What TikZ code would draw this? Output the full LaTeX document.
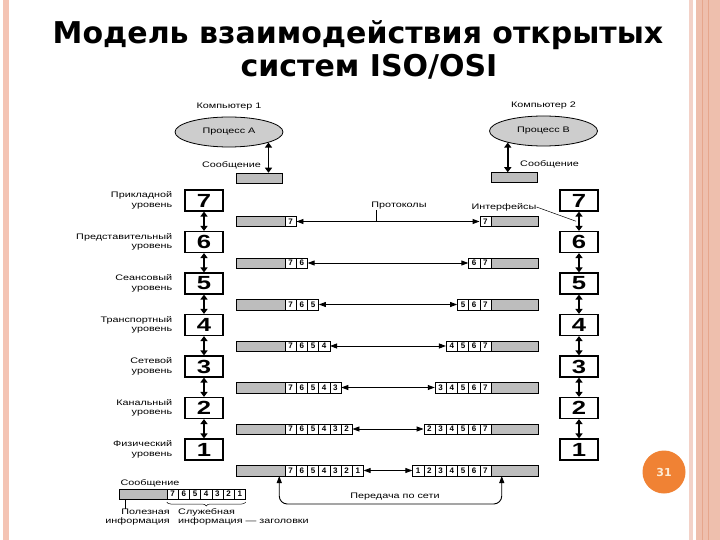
\documentclass[tikz,border=0pt]{standalone}
\usepackage{fontspec}
\setmainfont{Liberation Sans}
\newfontfamily\titlefont{DejaVu Sans}
\usepackage{graphicx}
\usetikzlibrary{shapes.geometric,arrows.meta,calc,decorations.pathreplacing}
\definecolor{barfill}{HTML}{BDBDBD}
\definecolor{ellfill}{HTML}{CDCDCD}
\definecolor{stripe}{HTML}{F4C4B4}
\definecolor{stripeB}{HTML}{EEBFAD}
\definecolor{stripeC}{HTML}{E6A68C}
\definecolor{stripeL}{HTML}{F3D2C8}
\definecolor{pgorange}{HTML}{F08234}
\definecolor{pgtext}{HTML}{FDEBD5}
\newcommand\wide[1]{\scalebox{1.35}[1]{#1}}
\newcommand\bigwide[1]{\scalebox{1.35}[1]{#1}}
\newcommand\smallf{\fontsize{8}{9.4}\selectfont}
\begin{document}
\begin{tikzpicture}[x=1pt,y=-1pt,
  lay/.style={draw, line width=1.1pt, minimum width=38pt, minimum height=21pt, inner sep=0pt, font=\fontsize{19}{19}\selectfont\bfseries},
  bar/.style={draw, line width=0.5pt, fill=barfill, minimum height=10.5pt, inner sep=0pt},
  cell/.style={draw, line width=0.5pt, fill=white, minimum width=11.2pt, minimum height=10.5pt, inner sep=0pt, font=\fontsize{8}{8}\selectfont\bfseries},
  lbl/.style={inner sep=0pt, font=\smallf},
  varrow/.style={line width=1.6pt, {Triangle[length=5pt,width=7pt]}-{Triangle[length=5pt,width=7pt]}},
  harrow/.style={line width=0.9pt, {Triangle[length=7pt,width=5pt]}-{Triangle[length=7pt,width=5pt]}},
  proc/.style={ellipse, draw, line width=0.8pt, fill=ellfill, minimum width=108pt, minimum height=30pt, inner sep=0pt, font=\smallf}
]
\useasboundingbox (0,0) rectangle (720,540);
\fill[white] (0,0) rectangle (720,540);
% border stripes
\fill[stripe] (2.7,0) rectangle (9.3,540);
\fill[stripeL] (689,0) rectangle (693,540);
\fill[stripeB] (696,0) rectangle (720,540);
\fill[stripeC] (702.2,0) rectangle (703.4,540);
\fill[stripeC] (708.2,0) rectangle (709.4,540);
% title
\node[anchor=base, inner sep=0pt, font=\titlefont\bfseries\fontsize{30}{33}\selectfont] (t1) at (358,44) {Модель взаимодействия открытых};
\node[anchor=base, inner sep=0pt, font=\titlefont\bfseries\fontsize{30}{33}\selectfont] (t2) at (369,77) {систем ISO/OSI};
% layer boxes
\foreach \k in {1,...,7} {
  \pgfmathsetmacro\yy{200.5+(7-\k)*41.5}
  \node[lay] (L\k) at (204,\yy) {\bigwide{\k}};
  \node[lay] (R\k) at (579,\yy) {\bigwide{\k}};
}
\foreach \k [evaluate=\k as \j using int(\k-1)] in {7,...,2} {
  \draw[varrow] (L\k.south) -- (L\j.north);
  \draw[varrow] (R\k.south) -- (R\j.north);
}
% layer labels
\foreach \k/\nm in {7/Прикладной,6/Представительный,5/Сеансовый,4/Транспортный,3/Сетевой,2/Канальный,1/Физический} {
  \node[lbl, anchor=east] (N\k) at ($(L\k.west)+(-12,0)$) {\wide{\begin{tabular}{@{}r@{}}\nm\\уровень\end{tabular}}};
}
% message rows
\foreach \k in {1,...,7} {
  \pgfmathsetmacro\ry{221.5+(7-\k)*41.5}
  \node[bar, minimum width=49pt] (Lg\k) at (260.5,\ry) {};
  \foreach \j in {7,...,\k} {
    \pgfmathsetmacro\cx{285+11.2*(7-\j+0.5)}
    \node[cell] (Lc\k-\j) at (\cx,\ry) {\j};
  }
  \foreach \j in {\k,...,7} {
    \pgfmathsetmacro\cx{491-11.2*(7-\j+0.5)}
    \node[cell] (Rc\k-\j) at (\cx,\ry) {\j};
  }
  \node[bar, minimum width=47pt] (Rg\k) at (514.5,\ry) {};
  \draw[harrow] (Lc\k-\k.east) -- (Rc\k-\k.west);
}
% computers
\node[lbl] (K1) at (229,107) {\wide{Компьютер 1}};
\node[proc] (P1) at (229,132) {\wide{Процесс А}};
\node[bar, minimum width=46pt, minimum height=10pt] (M1) at (259,178) {};
\draw[varrow] (P1.-15) -- (P1.-15 |- M1.north);
\node[lbl, anchor=east] (S1) at (261,165) {\wide{Сообщение}};
\node[lbl] (K2) at (543.5,106) {\wide{Компьютер 2}};
\node[proc] (P2) at (543.5,131) {\wide{Процесс В}};
\node[bar, minimum width=46pt, minimum height=10pt] (M2) at (514.5,177.5) {};
\draw[varrow] (P2.198) -- (P2.198 |- M2.north);
\node[lbl, anchor=west] (S2) at (520,164) {\wide{Сообщение}};
% protocols / interfaces
\node[lbl] (Prot) at (399,206) {\wide{Протоколы}};
\draw[line width=0.5pt] ($(Prot.south west)+(5,0)$) coordinate (pl) -- (pl |- Lc7-7.east);
\node[lbl] (Intf) at (504,207) {\wide{Интерфейсы}};
\coordinate (ia) at ($(R7.south)!0.5!(R6.north)$);
\draw[line width=0.5pt] (Intf.east) -- ($(ia)+(-3,0)$);
% network transfer
\coordinate (nl) at ($(Lg1.south east)+(-6,0)$);
\coordinate (nr) at ($(Rg1.south west)+(11,0)$);
\draw[line width=0.9pt, rounded corners=8pt, {Triangle[length=7pt,width=5pt]}-{Triangle[length=7pt,width=5pt]}] (nl) -- ($(nl)+(0,28)$) -- ($(nr)+(0,28)$) -- (nr);
\node[lbl] (Net) at (395,496.5) {\wide{Передача по сети}};
% legend
\node[lbl] (LegS) at (150,483) {\wide{Сообщение}};
\node[bar, minimum width=48pt, minimum height=9.5pt] (LegG) at (143,494) {};
\foreach \j in {7,...,1} {
  \pgfmathsetmacro\cx{167+11.2*(7-\j+0.5)}
  \node[cell, minimum height=9.5pt] (Leg\j) at (\cx,494) {\j};
}
\draw[decorate, decoration={brace, amplitude=4pt}, line width=0.5pt] ($(Leg1.south east)+(0,3)$) -- ($(Leg7.south west)+(0,3)$);
\draw[line width=0.5pt] ($(LegG.south west)+(6,0)$) -- ++(0,10);
\node[lbl, anchor=north east] (T1) at (170,507.5) {\wide{\begin{tabular}{@{}r@{}}Полезная\\информация\end{tabular}}};
\node[lbl, anchor=north west] (T2) at (178,507.5) {\wide{\begin{tabular}{@{}l@{}}Служебная\\информация — заголовки\end{tabular}}};
% page number
\node[circle, fill=pgorange, minimum size=43pt, inner sep=0pt, text=pgtext, font=\titlefont\bfseries\fontsize{11}{11}\selectfont] (pg) at (664,472) {31};
\end{tikzpicture}
\end{document}
